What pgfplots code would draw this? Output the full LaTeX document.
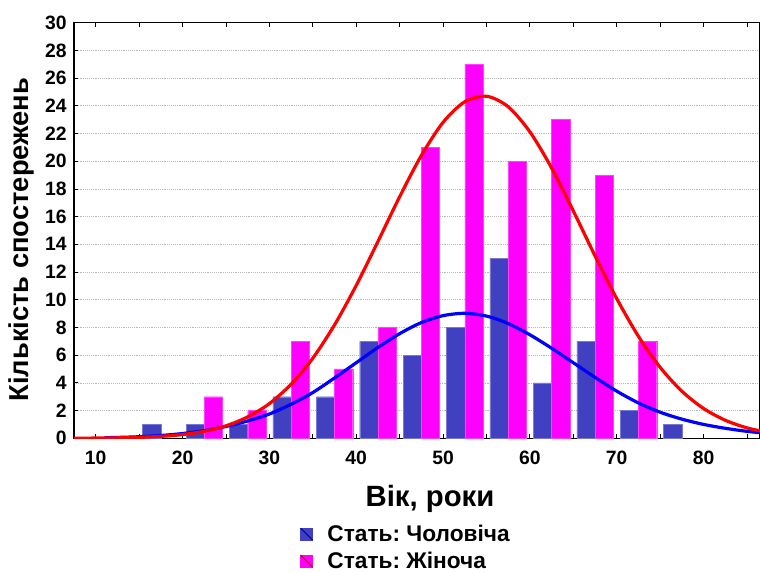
\documentclass[border=0pt]{standalone}
\usepackage{fontspec}
\setmainfont{Liberation Sans}
\usepackage{pgfplots}
\pgfplotsset{compat=1.18}
\definecolor{barblue}{RGB}{64,64,192}
\definecolor{barmag}{RGB}{255,0,255}
\frenchspacing
\begin{document}
\begin{tikzpicture}
\begin{axis}[
  name=ax, at={(0,0)}, anchor=south west,
  width=514.5pt, height=311.7pt, scale only axis,
  xmin=7.5, xmax=86.5, ymin=0, ymax=30,
  xtick={10,20,...,80}, minor xtick={15,25,...,85},
  ytick={0,2,...,30},
  tick align=inside, xtick pos=both, ytick pos=left,
  major tick length=3pt, minor tick length=3pt,
  tick style={black, line width=0.6pt},
  axis line style={black, line width=0.8pt},
  ymajorgrids, grid style={densely dotted, gray!55, line width=0.5pt},
  /pgf/number format/assume math mode=true,
  tick label style={font=\bfseries\fontsize{14.5}{16}\selectfont},
  yticklabel style={xshift=-2pt},
  xticklabel style={yshift=-6pt},
  xlabel={Вік, роки},
  xlabel style={font=\bfseries\fontsize{22}{26}\selectfont, at={(axis description cs:0.519,-0.1646)}, anchor=base},
  ylabel={Кількість спостережень},
  ylabel style={font=\bfseries\fontsize{20.5}{23}\selectfont, at={(axis description cs:-0.0666,0.478)}, anchor=base},
  legend style={draw=none, fill=none, at={(axis description cs:0.3236,-0.195)}, anchor=north west,
    font=\bfseries\fontsize{17}{20}\selectfont, row sep=2.5pt,
    cells={anchor=west}},
]
% Стать: Чоловіча
\addplot[ybar, bar width=2.1, bar shift=0pt, fill=barblue, draw=barblue!70!white, line width=0.25pt,
  legend image code/.code={\fill[barblue] (0pt,-4.5pt) rectangle (9pt,4.5pt);
    \draw[blue!60!black, line width=0.6pt] (0pt,4.5pt) -- (9pt,-4.5pt);
    \node[inner sep=0pt, minimum size=0pt] at (18pt,0pt) {};}]
  coordinates {
    (16.45,1) (21.45,1) (26.45,1) (31.45,3) (36.45,3) (41.45,7) (46.45,6)
    (51.45,8) (56.45,13) (61.45,4) (66.45,7) (71.45,2) (76.45,1)};
\addlegendentry{Стать: Чоловіча}
% Стать: Жіноча
\addplot[ybar, bar width=2.1, bar shift=0pt, fill=barmag, draw=barmag!75!white, line width=0.25pt,
  legend image code/.code={\fill[barmag] (0pt,-4.5pt) rectangle (9pt,4.5pt);
    \draw[red!70!black, line width=0.6pt] (0pt,4.5pt) -- (9pt,-4.5pt);
    \node[inner sep=0pt, minimum size=0pt] at (18pt,0pt) {};}]
  coordinates {
    (23.55,3) (28.55,2) (33.55,7) (38.55,5) (43.55,8) (48.55,21)
    (53.55,27) (58.55,20) (63.55,23) (68.55,19) (73.55,7)};
\addlegendentry{Стать: Жіноча}
% fitted curves
\addplot[forget plot, smooth, blue, line width=2.4pt] coordinates {
  (11,0.04) (12.5,0.06) (15,0.11) (17.5,0.2) (20,0.34) (22.5,0.55) (25,0.85)
  (27.5,1.25) (30,1.75) (32.5,2.45) (35,3.3) (37.5,4.35) (40,5.45) (42.5,6.55)
  (45,7.55) (47.5,8.35) (50,8.85) (52.5,9.02) (55,8.82) (57.5,8.28) (60,7.47)
  (62.5,6.5) (65,5.45) (67.5,4.4) (70,3.4) (72.5,2.55) (75,1.88) (77.5,1.38)
  (80,1.0) (82.5,0.72) (85,0.5) (87.5,0.35)};
\addplot[forget plot, smooth, red, line width=2.4pt] coordinates {
  (7.5,0.01) (10,0.013) (12.5,0.03) (15,0.066) (17.5,0.136) (20,0.268) (22.5,0.502)
  (25,0.899) (27.5,1.54) (30,2.5) (32.5,3.9) (35,5.78) (37.5,8.18) (40,11.03)
  (42.5,14.2) (45,17.43) (47.5,20.41) (50,22.8) (52.5,24.29) (55,24.69)
  (57.5,23.93) (60,22.12) (62.5,19.51) (65,16.41) (67.5,13.17) (70,10.08)
  (72.5,7.36) (75,5.12) (77.5,3.4) (80,2.15) (82.5,1.3) (85,0.75) (87.5,0.41)};
\end{axis}
\pgfresetboundingbox
\path[use as bounding box] (-55.5pt,-101pt) rectangle (514.5pt,328.7pt);
\end{tikzpicture}
\end{document}
